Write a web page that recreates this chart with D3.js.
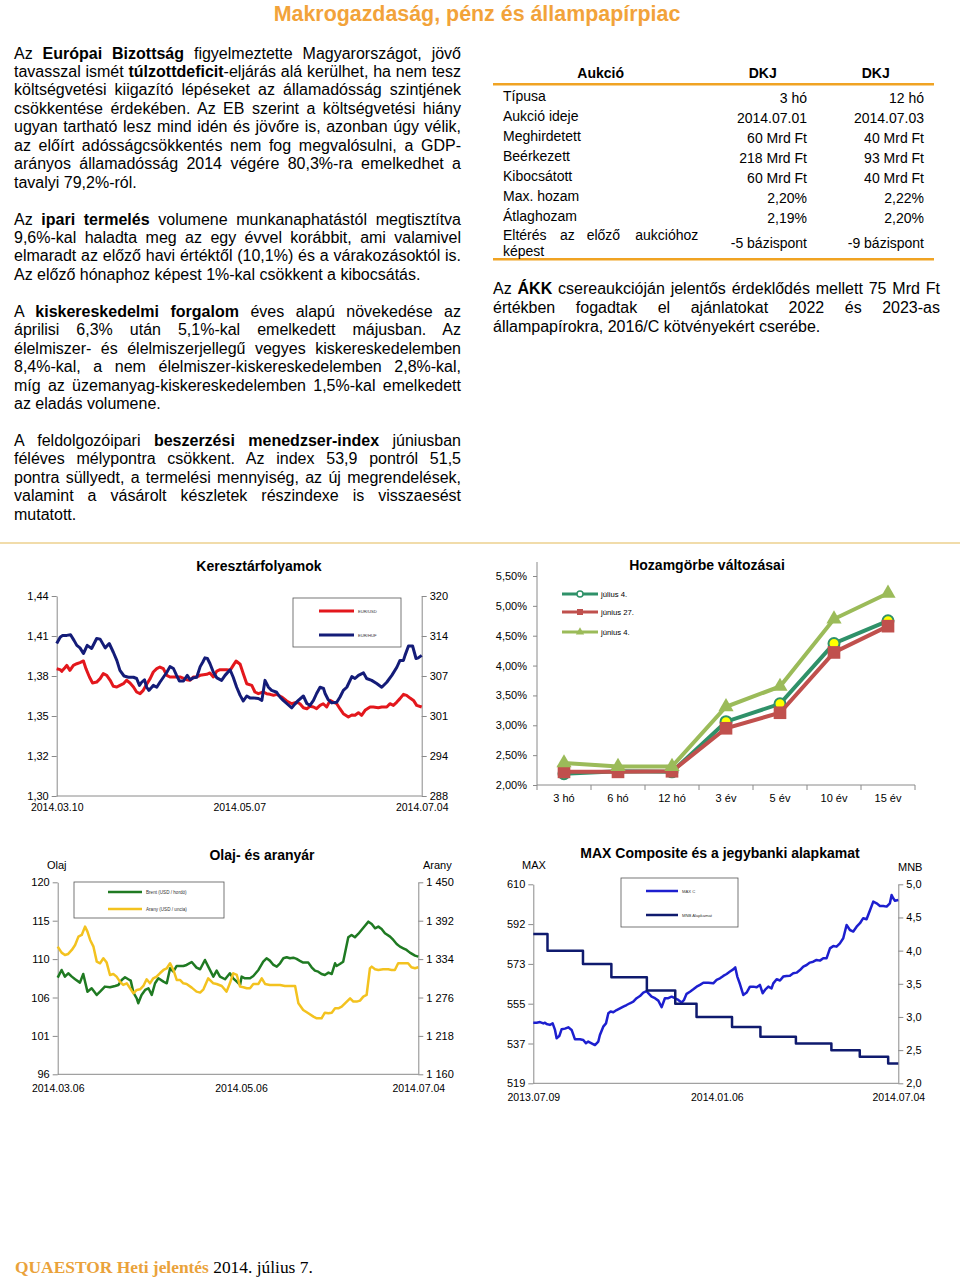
<!DOCTYPE html>
<html lang="hu"><head><meta charset="utf-8">
<script src="https://cdn.jsdelivr.net/npm/d3@7/dist/d3.min.js"></script>
<style>
html,body{margin:0;padding:0;background:#fff;}
#page{position:relative;width:960px;height:1277px;overflow:hidden;font-family:"Liberation Sans",Arial,sans-serif;}
.txt{position:absolute;font-size:16px;color:#000;}
.txt div{white-space:normal;}
.j{text-align:justify;text-align-last:justify;}
.l{text-align:left;}
svg{position:absolute;left:0;top:0;}
</style></head><body><div id="page"></div>
<script>
// ---------------- DATA ----------------
const headerTitle = "Makrogazdaság, pénz és állampapírpiac";
const leftParas = [
 ["Az **Európai Bizottság** figyelmeztette Magyarországot, jövő",
  "tavasszal ismét **túlzottdeficit**-eljárás alá kerülhet, ha nem tesz",
  "költségvetési kiigazító lépéseket az államadósság szintjének",
  "csökkentése érdekében. Az EB szerint a költségvetési hiány",
  "ugyan tartható lesz mind idén és jövőre is, azonban úgy vélik,",
  "az előírt adósságcsökkentés nem fog megvalósulni, a GDP-",
  "arányos államadósság 2014 végére 80,3%-ra emelkedhet a",
  "tavalyi 79,2%-ról."],
 ["Az **ipari termelés** volumene munkanaphatástól megtisztítva",
  "9,6%-kal haladta meg az egy évvel korábbit, ami valamivel",
  "elmaradt az előző havi értéktől (10,1%) és a várakozásoktól is.",
  "Az előző hónaphoz képest 1%-kal csökkent a kibocsátás."],
 ["A **kiskereskedelmi forgalom** éves alapú növekedése az",
  "áprilisi 6,3% után 5,1%-kal emelkedett májusban. Az",
  "élelmiszer- és élelmiszerjellegű vegyes kiskereskedelemben",
  "8,4%-kal, a nem élelmiszer-kiskereskedelemben 2,8%-kal,",
  "míg az üzemanyag-kiskereskedelemben 1,5%-kal emelkedett",
  "az eladás volumene."],
 ["A feldolgozóipari **beszerzési menedzser-index** júniusban",
  "féléves mélypontra csökkent. Az index 53,9 pontról 51,5",
  "pontra süllyedt, a termelési mennyiség, az új megrendelések,",
  "valamint a vásárolt készletek részindexe is visszaesést",
  "mutatott."]
];
const rightPara = [
  "Az **ÁKK** csereaukcióján jelentős érdeklődés mellett 75 Mrd Ft",
  "értékben fogadtak el ajánlatokat 2022 és 2023-as",
  "állampapírokra, 2016/C kötvényekért cserébe."
];
const tableHead = ["Aukció","DKJ","DKJ"];
const tableLabels = ["Típusa","Aukció ideje","Meghirdetett","Beérkezett","Kibocsátott","Max. hozam","Átlaghozam"];
const tableCol1 = ["3 hó","2014.07.01","60 Mrd Ft","218 Mrd Ft","60 Mrd Ft","2,20%","2,19%"];
const tableCol2 = ["12 hó","2014.07.03","40 Mrd Ft","93 Mrd Ft","40 Mrd Ft","2,22%","2,20%"];
const tableLastLabel = [["Eltérés","az","előző","aukcióhoz"],["képest"]];
const tableLast = ["-5 bázispont","-9 bázispont"];

// Keresztárfolyamok
const fxStart = "2014.03.10", fxEnd = "2014.07.04", fxMid = "2014.05.07";
const eurusdDay = [0,1.1,1.6,2.6,3.2,4.2,5.3,6.4,7.4,8.5,9.3,10.4,11.4,12.7,13.8,14.8,15.9,17.0,18.0,19.1,20.1,21.2,22.2,23.3,24.4,25.4,26.5,27.5,28.6,29.7,30.7,31.8,32.8,33.9,35.0,36.0,37.1,39.2,41.3,42.4,43.4,44.5,45.6,47.7,48.7,49.8,50.9,51.9,54.0,55.1,56.1,57.0,58.3,59.3,60.4,62.0,63.0,64.1,65.7,66.7,67.8,68.9,69.9,71.5,73.1,74.7,76.3,77.3,78.4,79.5,80.5,81.6,82.6,83.7,84.7,85.8,86.9,87.9,89.0,90.0,91.1,92.7,93.8,94.8,95.9,96.9,98.0,99.6,100.6,102.2,103.3,104.9,105.9,107.0,108.1,109.1,110.2,111.2,112.3,113.4,114.4,116.0];
const eurusdVal = [1.3873,1.3866,1.3854,1.3880,1.3897,1.3861,1.3897,1.3909,1.3917,1.3929,1.3873,1.3813,1.3769,1.3776,1.3801,1.3837,1.3825,1.3789,1.3745,1.3740,1.3752,1.3764,1.3789,1.3769,1.3740,1.3704,1.3692,1.3716,1.3760,1.3801,1.3849,1.3873,1.3885,1.3873,1.3825,1.3813,1.3813,1.3813,1.3793,1.3789,1.3813,1.3813,1.3825,1.3832,1.3842,1.3813,1.3856,1.3866,1.3866,1.3861,1.3897,1.3929,1.3905,1.3837,1.3764,1.3752,1.3704,1.3692,1.3704,1.3692,1.3687,1.3680,1.3687,1.3668,1.3639,1.3619,1.3631,1.3619,1.3590,1.3583,1.3600,1.3595,1.3583,1.3607,1.3619,1.3595,1.3643,1.3631,1.3619,1.3583,1.3547,1.3523,1.3537,1.3535,1.3554,1.3535,1.3571,1.3595,1.3595,1.3590,1.3595,1.3595,1.3619,1.3607,1.3631,1.3656,1.3687,1.3680,1.3660,1.3643,1.3607,1.3595];
const eurhufDay = [0,1.1,1.9,3.2,4.4,5.5,6.4,7.4,8.5,9.7,11.1,12.7,13.8,15.4,16.7,18.0,19.1,20.1,21.4,22.8,24.4,25.4,26.3,27.0,27.9,28.6,29.3,30.2,30.7,31.8,32.8,33.9,35.0,36.0,37.1,38.1,39.0,40.3,40.8,41.5,42.4,43.4,44.5,45.6,46.4,47.1,47.9,48.7,49.8,50.9,52.4,53.5,55.1,56.1,57.2,58.3,59.3,60.4,61.4,62.5,64.1,65.2,66.2,67.3,68.3,69.9,71.0,72.0,73.1,74.7,75.7,76.8,78.4,79.5,80.5,81.6,82.6,83.7,84.8,85.3,86.3,87.4,89.0,90.0,91.1,92.2,93.8,94.8,95.9,97.5,98.5,100.1,101.7,103.3,104.9,106.5,108.1,109.1,110.2,110.7,111.8,113.1,114.2,114.9,116.0];
const eurhufVal = [312.4,313.4,313.7,313.7,313.8,312.9,312.1,311.7,310.8,312.1,311.6,313.2,313.1,311.7,312.4,311.0,309.7,308.1,307.2,307.0,307.0,306.8,305.7,306.2,306.6,305.4,304.9,305.4,305.7,305.4,306.2,307.0,307.8,308.7,308.4,307.3,306.4,306.4,306.8,307.3,306.6,306.9,307.0,308.7,309.4,310.1,310.0,309.2,307.8,306.9,306.5,307.3,308.2,307.0,305.4,304.1,303.2,304.0,303.7,303.7,303.6,303.3,306.5,305.4,304.9,304.6,303.8,303.3,302.8,302.1,302.7,303.3,304.0,302.8,302.5,303.3,304.4,305.4,305.2,304.4,303.4,302.9,303.0,303.8,304.9,305.4,307.1,306.8,307.3,307.7,306.8,306.5,306.0,305.4,306.2,307.3,308.6,309.7,309.7,310.5,312.0,312.0,310.0,310.1,310.5];
const fxLeftTicks = [1.295,1.324,1.353,1.382,1.411,1.44];
const fxLeftLabels = ["1,30","1,32","1,35","1,38","1,41","1,44"];
const fxRightTicks = [288,294.4,300.8,307.2,313.6,320];
const fxRightLabels = ["288","294","301","307","314","320"];

// Hozamgörbe
const maturities = ["3 hó","6 hó","12 hó","3 év","5 év","10 év","15 év"];
const yieldJul4 = [2.19,2.23,2.22,3.06,3.36,4.37,4.75];
const yieldJun27 = [2.22,2.22,2.23,2.95,3.21,4.22,4.66];
const yieldJun4 = [2.37,2.31,2.31,3.31,3.65,4.78,5.21];
const yieldNames = ["július 4.","június 27.","június 4."];
const yieldTicks = [2.0,2.5,3.0,3.5,4.0,4.5,5.0,5.5];
const yieldLabels = ["2,00%","2,50%","3,00%","3,50%","4,00%","4,50%","5,00%","5,50%"];

// Olaj- és aranyár
const oilStart = "2014.03.06", oilEnd = "2014.07.04", oilMid = "2014.05.06";
const brentDay = [0,1.3,2.4,3.5,4.7,5.8,7.4,8.5,9.9,11.3,13.0,14.1,15.7,17.4,19.1,20.2,21.3,22.4,23.5,24.3,25.2,26.3,26.8,27.9,29.1,30.2,31.3,32.4,33.5,35.2,36.3,37.4,38.5,39.6,40.7,41.8,42.9,44.6,46.2,47.4,49.0,50.1,51.8,52.9,54.0,55.7,57.3,58.4,59.6,60.7,61.2,62.3,64.0,65.1,66.8,68.4,69.5,70.6,71.8,72.9,74.0,75.1,76.2,77.3,78.4,79.5,80.6,81.7,83.4,84.5,85.6,86.7,87.8,88.9,90.1,91.2,92.3,92.8,93.9,95.0,96.7,97.8,98.9,100.0,101.1,102.2,103.4,104.5,105.6,106.7,107.8,108.9,110.6,111.7,112.8,113.9,115.0,116.1,117.2,118.9,120.0];
const brentVal = [108.08,109.04,108.21,108.63,108.21,107.88,107.46,108.54,106.33,106.75,105.92,106.33,106.96,106.88,107.04,107.17,107.79,108.13,107.88,107.71,106.21,105.5,104.88,105.92,106.54,106.75,105.92,107.38,108.0,107.58,107.38,109.25,108.83,109.54,109.54,109.54,109.67,110.04,109.33,109.13,110.29,109.46,108.21,108.96,108.21,107.88,108.63,108.0,107.58,107.17,108.21,108.0,108.0,108.29,109.04,110.08,110.5,110.21,109.67,109.46,109.88,110.5,110.63,110.5,110.58,110.42,110.17,109.96,109.96,109.38,108.96,108.83,108.54,108.42,108.71,108.54,109.88,109.54,109.79,110.08,113.13,113.42,113.13,113.54,114.04,114.54,115.08,114.79,114.25,114.46,114.17,113.63,113.21,112.79,112.29,111.96,111.75,111.54,111.21,110.83,110.71];
const goldDay = [0,1.3,2.4,3.5,4.7,5.8,6.9,8.0,9.1,9.9,10.8,11.9,13.0,14.1,15.2,16.3,17.4,18.5,19.6,20.7,21.8,23.0,24.1,25.2,26.3,27.4,28.5,29.6,30.7,31.8,32.9,34.0,35.2,36.3,37.4,38.5,39.6,40.7,41.8,42.9,44.6,46.2,47.4,48.5,50.1,51.8,52.9,54.6,56.2,57.3,58.4,59.6,60.7,61.8,62.9,64.0,65.1,66.8,67.9,69.0,70.6,72.3,74.0,75.6,77.3,79.0,80.1,81.7,83.4,85.1,86.2,87.8,88.9,90.1,91.2,92.3,93.4,94.5,96.2,97.3,98.4,99.5,100.6,101.7,102.8,103.9,104.5,105.6,106.7,108.3,110.0,111.1,112.2,113.3,115.0,116.6,117.7,118.9,120.0];
const goldVal = [1352.8,1343.8,1340.2,1341.8,1347.8,1355.3,1367.9,1370.5,1383.0,1375.5,1362.9,1352.8,1330.2,1327.7,1335.2,1328.7,1310.0,1311.5,1307.5,1300.0,1294.9,1297.4,1289.9,1282.3,1287.4,1288.4,1293.4,1303.5,1297.4,1305.0,1307.5,1312.6,1317.6,1320.1,1327.7,1317.6,1302.5,1302.5,1297.4,1296.4,1290.9,1284.9,1283.4,1288.4,1305.0,1297.4,1296.4,1293.4,1284.9,1297.4,1312.6,1310.0,1292.4,1291.4,1289.9,1289.9,1296.4,1296.4,1305.0,1296.4,1294.9,1294.9,1294.9,1293.4,1293.4,1293.4,1267.2,1257.2,1252.1,1247.1,1244.6,1244.6,1253.1,1252.1,1253.1,1259.7,1259.7,1262.2,1269.8,1274.8,1269.8,1269.8,1271.3,1277.3,1279.8,1320.1,1322.6,1318.6,1317.6,1318.6,1318.6,1317.6,1317.6,1327.7,1327.7,1327.7,1321.6,1320.1,1321.6];
const oilTicks = [96,100.8,105.6,110.4,115.2,120];
const oilLabels = ["96","101","106","110","115","120"];
const goldTicks = [1160,1218,1276,1334,1392,1450];
const goldLabels = ["1 160","1 218","1 276","1 334","1 392","1 450"];

// MAX Composite és alapkamat
const maxStart = "2013.07.09", maxEnd = "2014.07.04", maxMid = "2014.01.06";
const maxDay = [0,3.3,6.6,9.9,11.5,13.1,16.4,19.1,21.4,23.0,25.6,27.9,31.2,34.5,37.8,41.1,46.0,49.3,51.9,54.2,57.5,60.8,64.1,65.7,69.0,71.7,74.0,76.3,78.9,82.2,85.5,88.8,92.0,95.3,98.6,101.9,105.2,108.5,111.8,113.4,116.7,120.0,123.3,126.6,129.8,133.1,136.4,139.7,143.0,146.3,148.6,151.2,154.5,157.8,161.1,164.4,167.7,172.6,177.5,180.8,184.1,187.4,190.7,194.0,197.2,199.2,201.2,203.8,207.1,210.4,213.7,217.0,220.3,223.5,226.2,228.5,231.8,235.0,236.7,240.0,243.3,246.5,249.8,253.1,256.4,259.7,263.0,266.3,269.6,272.8,276.1,279.4,282.7,286.0,289.3,292.6,295.9,299.1,302.4,305.7,309.0,312.3,315.6,318.9,322.2,325.4,328.7,332.0,335.3,338.6,341.9,345.2,348.5,351.7,353.4,355.0,356.7,360.0];
const maxVal = [546.7,546.7,547.0,546.4,546.7,546.1,545.7,546.4,543.4,539.6,540.6,543.7,544.0,544.6,543.4,539.1,539.1,538.8,537.3,538.1,537.3,536.5,538.1,541.1,544.9,546.4,551.0,551.8,551.5,552.5,553.3,554.1,554.8,555.6,556.3,557.9,558.9,560.5,561.2,560.2,558.6,557.9,556.8,553.8,557.9,557.9,558.6,557.9,557.1,555.9,557.1,559.9,560.9,562.0,563.2,564.0,565.0,565.0,564.7,566.3,567.0,568.1,569.0,570.1,571.1,572.0,567.8,564.4,559.4,560.5,563.2,563.2,562.9,564.0,560.2,561.7,563.2,562.4,564.7,566.6,566.0,567.8,568.1,568.2,569.3,569.6,570.8,572.4,573.1,574.2,574.6,575.4,575.1,576.2,576.2,580.7,581.8,581.5,583.0,585.3,591.4,589.1,588.4,590.6,592.2,594.5,594.0,598.0,602.1,601.3,600.1,600.1,599.8,601.3,605.1,603.6,602.5,602.8];
const rateDates = ["2013.07.09","2013.07.23","2013.08.27","2013.09.24","2013.10.29","2013.11.26","2013.12.17","2014.01.21","2014.02.18","2014.03.25","2014.04.29","2014.05.27","2014.06.24","2014.07.04"];
const rateVal = [4.25,4.0,3.8,3.6,3.4,3.2,3.0,2.85,2.7,2.6,2.5,2.4,2.3,2.3];
const maxTicks = [519,537.2,555.4,573.6,591.8,610];
const maxLabels = ["519","537","555","573","592","610"];
const mnbTicks = [2.0,2.5,3.0,3.5,4.0,4.5,5.0];
const mnbLabels = ["2,0","2,5","3,0","3,5","4,0","4,5","5,0"];

// ---------------- RENDER ----------------
const FONT = '"Liberation Sans", Arial, sans-serif';
const page = d3.select('#page');
const md = s => s.replace(/\*\*(.+?)\*\*/g, '<b>$1</b>');

const leftCol = page.append('div').attr('class','txt')
  .style('left','14px').style('top','44.5px').style('width','447px').style('line-height','18.45px');
leftParas.forEach((p,pi)=>{
  if(pi>0) leftCol.append('div').html('&nbsp;');
  p.forEach((ln,i)=> leftCol.append('div').attr('class', i===p.length-1?'l':'j').html(md(ln)));
});
const rightCol = page.append('div').attr('class','txt')
  .style('left','493px').style('top','280.2px').style('width','447px').style('line-height','18.65px');
rightPara.forEach((ln,i)=> rightCol.append('div').attr('class', i===rightPara.length-1?'l':'j').html(md(ln)));

const svg = page.append('svg').attr('width',960).attr('height',1277).style('pointer-events','none');

// header & footer
svg.append('text').attr('x',477).attr('y',21).attr('text-anchor','middle')
  .style('font-family',FONT).style('font-size','21.4px').style('font-weight','bold')
  .attr('fill','#f2a33a').text(headerTitle);
const foot = svg.append('text').attr('x',15).attr('y',1272.5)
  .style('font-family','"Liberation Serif","Times New Roman",serif').style('font-size','17.4px');
foot.append('tspan').attr('fill','#eaa23a').style('font-weight','bold').text('QUAESTOR Heti jelentés');
foot.append('tspan').attr('fill','#000').text(' 2014. július 7.');

// separator
svg.append('line').attr('x1',0).attr('x2',960).attr('y1',543).attr('y2',543)
  .attr('stroke','#ecd08e').attr('stroke-width',1.5);

// table
const tb = svg.append('g').style('font-family',FONT).style('font-size','14px');
const colX = [600.7, 762.7, 875.7];
tableHead.forEach((h,i)=> tb.append('text').attr('x',colX[i]).attr('y',77.5).attr('text-anchor','middle').style('font-weight','bold').text(h));
[84.3, 259.3].forEach(y=> tb.append('line').attr('x1',493).attr('x2',934).attr('y1',y).attr('y2',y).attr('stroke','#f0a323').attr('stroke-width',2.5));
const rowY = d3.scaleLinear().domain([0,1]).range([101, 121.05]);
tableLabels.forEach((l,i)=>{
  tb.append('text').attr('x',503).attr('y',rowY(i)).text(l);
  tb.append('text').attr('x',807).attr('y',rowY(i)+1.7).attr('text-anchor','end').text(tableCol1[i]);
  tb.append('text').attr('x',924).attr('y',rowY(i)+1.7).attr('text-anchor','end').text(tableCol2[i]);
});
const wx = [503, 560, 586.7, 698.3];
tableLastLabel[0].forEach((w,i)=> tb.append('text').attr('x',wx[i]).attr('y',240).attr('text-anchor', i===3?'end':'start').text(w));
tb.append('text').attr('x',503).attr('y',256).text(tableLastLabel[1][0]);
tb.append('text').attr('x',807).attr('y',248.3).attr('text-anchor','end').text(tableLast[0]);
tb.append('text').attr('x',924).attr('y',248.3).attr('text-anchor','end').text(tableLast[1]);

// ---------- generic dual axis line chart ----------
const parse = d3.timeParse('%Y.%m.%d');
const fmt = d3.timeFormat('%Y.%m.%d');
const AX = '#8a8a8a';
function styleAxis(g, fs){
  g.attr('font-family',FONT).attr('font-size',fs);
  g.select('.domain').attr('stroke',AX);
  g.selectAll('.tick line').attr('stroke',AX);
  g.selectAll('.tick text').attr('fill','#000');
}
function dualChart(o){
  const g = svg.append('g');
  const start = parse(o.start), end = parse(o.end);
  const x = d3.scaleTime().domain([start,end]).range([o.x0,o.x1]);
  const yL = d3.scaleLinear().domain(o.lDomain).range([o.y1,o.y0]);
  const yR = d3.scaleLinear().domain(o.rDomain).range([o.y1,o.y0]);
  g.append('line').attr('x1',o.x0).attr('x2',o.x1).attr('y1',o.y1).attr('y2',o.y1).attr('stroke',AX);
  g.append('g').attr('transform',`translate(${o.x0},0)`)
    .call(d3.axisLeft(yL).tickValues(o.lTicks).tickFormat((d,i)=>o.lLabels[i]).tickSizeInner(5).tickSizeOuter(0).tickPadding(3))
    .call(s=>styleAxis(s,11));
  g.append('g').attr('transform',`translate(${o.x1},0)`)
    .call(d3.axisRight(yR).tickValues(o.rTicks).tickFormat((d,i)=>o.rLabels[i]).tickSizeInner(5).tickSizeOuter(0).tickPadding(3))
    .call(s=>styleAxis(s,11));
  g.append('g').attr('transform',`translate(0,${o.y1})`)
    .call(d3.axisBottom(x).tickValues(o.xDates.map(parse)).tickFormat(fmt).tickSize(0).tickPadding(o.xPad))
    .call(s=>{styleAxis(s,10.5); s.select('.domain').remove();});
  const toDate = d => new Date(start.getTime() + d*864e5);
  o.series.forEach(s=>{
    const ys = s.axis==='r' ? yR : yL;
    const pts = s.dates ? s.dates.map((d,i)=>[parse(d), s.val[i]]) : s.day.map((d,i)=>[toDate(d), s.val[i]]);
    const line = d3.line().x(p=>x(p[0])).y(p=>ys(p[1])).curve(s.step ? d3.curveStepAfter : d3.curveLinear);
    g.append('path').datum(pts).attr('d',line).attr('fill','none').attr('stroke',s.color)
      .attr('stroke-width',s.w).attr('stroke-linejoin','round');
  });
  g.append('text').attr('x',o.titleX).attr('y',o.titleY).attr('text-anchor','middle')
    .style('font-family',FONT).style('font-size','14px').style('font-weight','bold').text(o.title);
  (o.axisNames||[]).forEach(a=> g.append('text').attr('x',a.x).attr('y',a.y).attr('text-anchor',a.anchor)
    .style('font-family',FONT).style('font-size','11px').text(a.t));
  const L = o.legend;
  g.append('rect').attr('x',L.x).attr('y',L.y).attr('width',L.w).attr('height',L.h)
    .attr('fill','#fff').attr('stroke','#555').attr('stroke-width',0.8);
  o.series.forEach((s,i)=>{
    const ly = L.rows[i];
    g.append('line').attr('x1',L.lx0).attr('x2',L.lx1).attr('y1',ly).attr('y2',ly).attr('stroke',s.color).attr('stroke-width',s.w);
    g.append('text').attr('x',L.lx1+4).attr('y',ly+1.5).style('font-family',FONT).style('font-size',L.fs+'px').attr('fill','#333').text(s.name);
  });
}

dualChart({
  x0:56.7, x1:421.7, y0:596, y1:796, start:fxStart, end:fxEnd, xDates:[fxStart,fxMid,fxEnd], xPad:8,
  lDomain:[1.295,1.44], lTicks:fxLeftTicks, lLabels:fxLeftLabels,
  rDomain:[288,320], rTicks:fxRightTicks, rLabels:fxRightLabels,
  title:'Keresztárfolyamok', titleX:259, titleY:571,
  series:[
    {name:'EUR/USD', day:eurusdDay, val:eurusdVal, axis:'l', color:'#e3171c', w:3},
    {name:'EUR/HUF', day:eurhufDay, val:eurhufVal, axis:'r', color:'#141c78', w:3}
  ],
  legend:{x:293,y:598,w:108,h:49,lx0:319,lx1:354,rows:[611,635],fs:4.2}
});

dualChart({
  x0:57.7, x1:418.3, y0:882.3, y1:1074.3, start:oilStart, end:oilEnd, xDates:[oilStart,oilMid,oilEnd], xPad:10,
  lDomain:[96,120], lTicks:oilTicks, lLabels:oilLabels,
  rDomain:[1160,1450], rTicks:goldTicks, rLabels:goldLabels,
  title:'Olaj- és aranyár', titleX:262, titleY:860,
  axisNames:[{t:'Olaj',x:47,y:869,anchor:'start'},{t:'Arany',x:423,y:869,anchor:'start'}],
  series:[
    {name:'Brent (USD / hordó)', day:brentDay, val:brentVal, axis:'l', color:'#1f7a22', w:2.5},
    {name:'Arany (USD / uncia)', day:goldDay, val:goldVal, axis:'r', color:'#f3c21f', w:2.5}
  ],
  legend:{x:74,y:882,w:150,h:36,lx0:108,lx1:142,rows:[892,909],fs:4.6}
});

dualChart({
  x0:533.3, x1:898.3, y0:884.3, y1:1083.3, start:maxStart, end:maxEnd, xDates:[maxStart,maxMid,maxEnd], xPad:10,
  lDomain:[519,610], lTicks:maxTicks, lLabels:maxLabels,
  rDomain:[2,5], rTicks:mnbTicks, rLabels:mnbLabels,
  title:'MAX Composite és a jegybanki alapkamat', titleX:720, titleY:858,
  axisNames:[{t:'MAX',x:522,y:869,anchor:'start'},{t:'MNB',x:898,y:871,anchor:'start'}],
  series:[
    {name:'MAX C', day:maxDay, val:maxVal, axis:'l', color:'#1d1fcf', w:2.5},
    {name:'MNB Alapkamat', dates:rateDates, val:rateVal, axis:'r', color:'#0f1a6e', w:2.5, step:true}
  ],
  legend:{x:621,y:878,w:117,h:49,lx0:646,lx1:678,rows:[891,915],fs:4.2}
});

// ---------- Hozamgörbe ----------
(function(){
  const g = svg.append('g');
  const x = d3.scaleBand().domain(maturities).range([537,915]);
  const y = d3.scaleLinear().domain([2.0,5.5]).range([785,576]);
  g.append('line').attr('x1',537).attr('x2',537).attr('y1',562).attr('y2',785).attr('stroke',AX);
  g.append('g').attr('transform','translate(537,0)')
    .call(d3.axisLeft(y).tickValues(yieldTicks).tickFormat((d,i)=>yieldLabels[i]).tickSizeInner(4).tickSizeOuter(0).tickPadding(6))
    .call(s=>{styleAxis(s,11); s.select('.domain').remove();});
  g.append('line').attr('x1',537).attr('x2',915).attr('y1',785).attr('y2',785).attr('stroke',AX);
  const bounds = maturities.map(m=>x(m)).concat([x(maturities[maturities.length-1])+x.bandwidth()]);
  bounds.forEach(b=> g.append('line').attr('x1',b).attr('x2',b).attr('y1',785).attr('y2',790).attr('stroke',AX));
  maturities.forEach(m=> g.append('text').attr('x',x(m)+x.bandwidth()/2).attr('y',802).attr('text-anchor','middle')
    .style('font-family',FONT).style('font-size','11px').text(m));
  const cx = m => x(m)+x.bandwidth()/2;
  const series = [
    {name:yieldNames[0], val:yieldJul4, color:'#2f9169', sym:'circle'},
    {name:yieldNames[1], val:yieldJun27, color:'#c0504d', sym:'square'},
    {name:yieldNames[2], val:yieldJun4, color:'#9bbb59', sym:'triangle'}
  ];
  function marker(sel, s, big){
    if(s.sym==='circle'){
      sel.append('circle').attr('r', big?5.5:3).attr('fill', big?'#ffff00':'#fff').attr('stroke',s.color).attr('stroke-width',big?2:1.5);
    } else if(s.sym==='square'){
      sel.append('path').attr('d', d3.symbol(d3.symbolSquare, big?160:36)()).attr('fill',s.color);
    } else {
      sel.append('path').attr('d', d3.symbol(d3.symbolTriangle, big?100:30)()).attr('fill',s.color);
    }
  }
  series.forEach(s=>{
    const line = d3.line().x((d,i)=>cx(maturities[i])).y(d=>y(d));
    g.append('path').datum(s.val).attr('d',line).attr('fill','none').attr('stroke',s.color).attr('stroke-width',4);
    s.val.forEach((v,i)=>{
      const m = g.append('g').attr('transform',`translate(${cx(maturities[i])},${y(v)})`);
      marker(m, s, true);
    });
  });
  const legY = [594, 612, 632];
  series.forEach((s,i)=>{
    g.append('line').attr('x1',562).attr('x2',598).attr('y1',legY[i]).attr('y2',legY[i]).attr('stroke',s.color).attr('stroke-width',3);
    marker(g.append('g').attr('transform',`translate(580,${legY[i]})`), s, false);
    g.append('text').attr('x',601).attr('y',legY[i]+3).style('font-family',FONT).style('font-size','7.7px').text(s.name);
  });
  g.append('text').attr('x',707).attr('y',570).attr('text-anchor','middle')
    .style('font-family',FONT).style('font-size','14px').style('font-weight','bold').text('Hozamgörbe változásai');
})();
</script></body></html>
